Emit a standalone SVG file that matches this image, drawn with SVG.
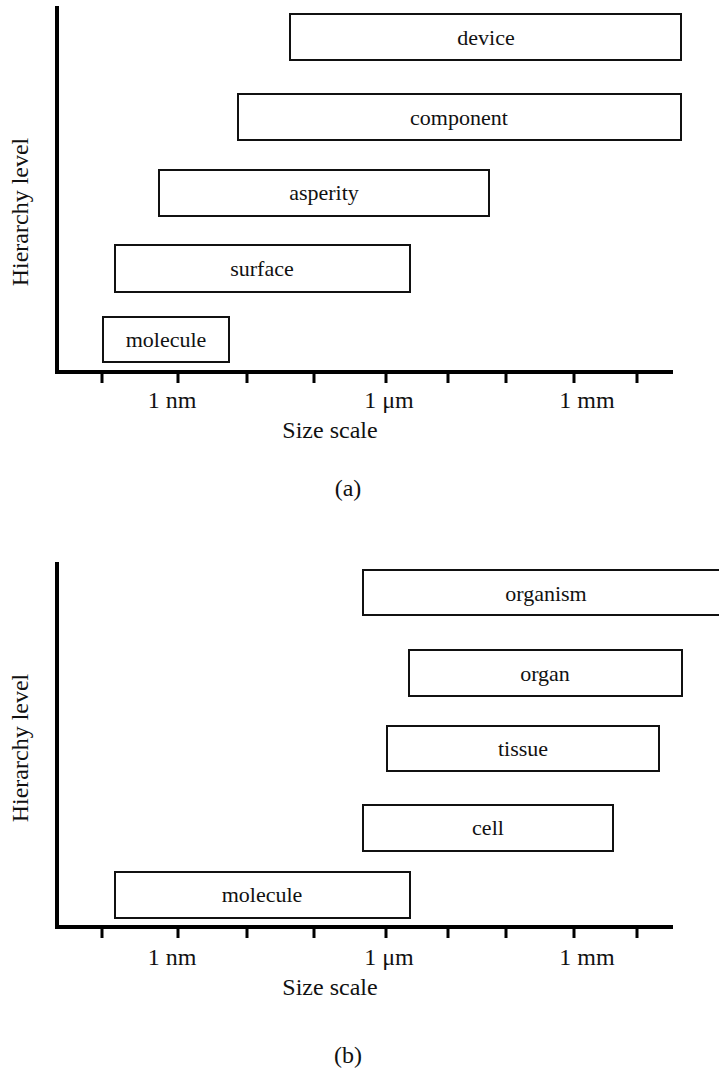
<svg xmlns="http://www.w3.org/2000/svg" width="719" height="1072" viewBox="0 0 719 1072">
<style>
.box{fill:#fff;stroke:#111;stroke-width:2}
.axis{stroke:#000;stroke-width:4;fill:none}
.tick{stroke:#000;stroke-width:3}
.lbl{font-family:"Liberation Serif","Times New Roman",serif;font-size:22px;fill:#111;text-anchor:middle}
.ax{font-family:"Liberation Serif","Times New Roman",serif;font-size:24px;fill:#111;text-anchor:middle}
</style>
<rect width="719" height="1072" fill="#fff"/>
<!-- Chart (a) -->
<g id="axes-a">
<path class="axis" d="M57,6 V372 H673"/>
<g class="tick">
<line x1="102" y1="372" x2="102" y2="383"/>
<line x1="178" y1="372" x2="178" y2="383"/>
<line x1="247" y1="372" x2="247" y2="383"/>
<line x1="314" y1="372" x2="314" y2="383"/>
<line x1="386" y1="372" x2="386" y2="383"/>
<line x1="448" y1="372" x2="448" y2="383"/>
<line x1="506" y1="372" x2="506" y2="383"/>
<line x1="574" y1="372" x2="574" y2="383"/>
<line x1="637" y1="372" x2="637" y2="383"/>
</g>
<text class="ax" x="172" y="408">1 nm</text>
<text class="ax" x="389" y="408">1 μm</text>
<text class="ax" x="587" y="408">1 mm</text>
<text class="ax" x="330" y="438">Size scale</text>
<text class="ax" x="28" y="212" transform="rotate(-90 28 212)" font-size="25">Hierarchy level</text>
<text class="ax" x="348" y="496">(a)</text>
</g>
<g id="device"><rect class="box" x="290" y="14" width="391" height="46"/><text class="lbl" x="486" y="45">device</text></g>
<g id="component"><rect class="box" x="238" y="94" width="443" height="46"/><text class="lbl" x="459" y="125">component</text></g>
<g id="asperity"><rect class="box" x="159" y="170" width="330" height="46"/><text class="lbl" x="324" y="200">asperity</text></g>
<g id="surface"><rect class="box" x="115" y="245" width="295" height="47"/><text class="lbl" x="262" y="276">surface</text></g>
<g id="molecule-a"><rect class="box" x="103" y="317" width="126" height="45"/><text class="lbl" x="166" y="347">molecule</text></g>
<!-- Chart (b) -->
<g id="axes-b">
<path class="axis" d="M57,562 V927 H673"/>
<g class="tick">
<line x1="102" y1="927" x2="102" y2="938"/>
<line x1="178" y1="927" x2="178" y2="938"/>
<line x1="247" y1="927" x2="247" y2="938"/>
<line x1="314" y1="927" x2="314" y2="938"/>
<line x1="386" y1="927" x2="386" y2="938"/>
<line x1="448" y1="927" x2="448" y2="938"/>
<line x1="506" y1="927" x2="506" y2="938"/>
<line x1="574" y1="927" x2="574" y2="938"/>
<line x1="637" y1="927" x2="637" y2="938"/>
</g>
<text class="ax" x="172" y="965">1 nm</text>
<text class="ax" x="389" y="965">1 μm</text>
<text class="ax" x="587" y="965">1 mm</text>
<text class="ax" x="330" y="995">Size scale</text>
<text class="ax" x="28" y="748" transform="rotate(-90 28 748)" font-size="25">Hierarchy level</text>
<text class="ax" x="348" y="1063">(b)</text>
</g>
<g id="organism"><rect class="box" x="363" y="570" width="360" height="45"/><text class="lbl" x="546" y="601">organism</text></g>
<g id="organ"><rect class="box" x="409" y="650" width="273" height="46"/><text class="lbl" x="545" y="681">organ</text></g>
<g id="tissue"><rect class="box" x="387" y="726" width="272" height="45"/><text class="lbl" x="523" y="756">tissue</text></g>
<g id="cell"><rect class="box" x="363" y="805" width="250" height="46"/><text class="lbl" x="488" y="835">cell</text></g>
<g id="molecule-b"><rect class="box" x="115" y="872" width="295" height="46"/><text class="lbl" x="262" y="902">molecule</text></g>
<g id="connectors"></g>
</svg>
